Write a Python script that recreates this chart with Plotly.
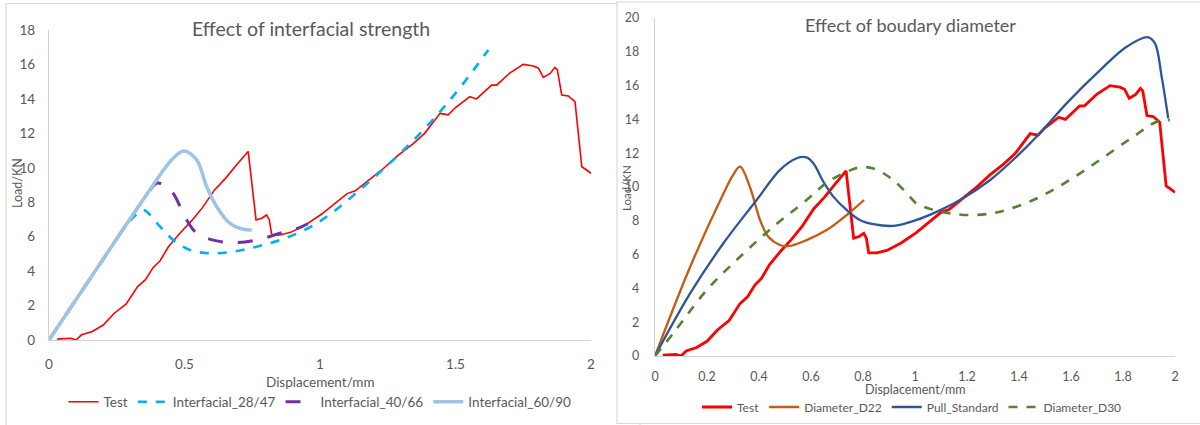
import plotly.graph_objects as go

# ---------------- data ----------------
test_x = [0.03, 0.08, 0.10, 0.12, 0.16, 0.20, 0.24, 0.285, 0.327, 0.356, 0.384, 0.41, 0.44, 0.483,
          0.525, 0.567, 0.61, 0.652, 0.694, 0.723, 0.735, 0.764, 0.785, 0.803, 0.813, 0.822, 0.852,
          0.892, 0.948, 1.005, 1.06, 1.10, 1.13, 1.175, 1.23, 1.287, 1.344, 1.386, 1.443, 1.473,
          1.50, 1.553, 1.578, 1.633, 1.652, 1.70, 1.75, 1.788, 1.806, 1.824, 1.849, 1.867, 1.876,
          1.892, 1.916, 1.941, 1.966, 1.984, 2.0]
test_y = [0.05, 0.1, 0.0, 0.3, 0.5, 0.87, 1.54, 2.1, 3.1, 3.5, 4.2, 4.6, 5.4, 6.2,
          6.9, 7.7, 8.7, 9.4, 10.2, 10.7, 10.95, 6.97, 7.07, 7.26, 6.97, 6.1, 6.1,
          6.25, 6.7, 7.3, 8.0, 8.5, 8.66, 9.24, 9.9, 10.7, 11.4, 12.0, 13.16, 13.07,
          13.5, 14.13, 14.0, 14.8, 14.8, 15.5, 16.0, 15.91, 15.78, 15.25, 15.48, 15.83, 15.68,
          14.23, 14.17, 13.84, 10.06, 9.87, 9.68]

if28_x = [0, 0.1, 0.2, 0.28, 0.32, 0.348, 0.41, 0.459, 0.52, 0.594, 0.68, 0.766, 0.852, 0.951,
          1.037, 1.16, 1.283, 1.357, 1.443, 1.529, 1.621]
if28_y = [0, 2.35, 4.7, 6.55, 7.25, 7.55, 6.58, 5.8, 5.23, 5.03, 5.13, 5.42, 5.8, 6.45,
          7.3, 8.9, 10.64, 11.8, 13.26, 14.9, 16.84]

if40_x = [0, 0.1, 0.2, 0.3, 0.36, 0.397, 0.43, 0.459, 0.508, 0.545, 0.606, 0.68, 0.766, 0.852,
          0.92, 0.955]
if40_y = [0, 2.35, 4.7, 7.05, 8.4, 9.1, 8.95, 8.5, 6.97, 6.2, 5.8, 5.65, 5.8, 6.2, 6.5, 6.75]

if60_x = [0, 0.1, 0.2, 0.3, 0.38, 0.415, 0.455, 0.497, 0.545, 0.582, 0.619, 0.668, 0.717, 0.748]
if60_y = [0, 2.35, 4.7, 7.05, 8.9, 9.7, 10.5, 10.97, 10.45, 8.9, 7.74, 6.77, 6.43, 6.39]

d22_x = [0, 0.135, 0.263, 0.30, 0.327, 0.365, 0.404, 0.436, 0.48, 0.513, 0.583, 0.66, 0.737, 0.804]
d22_y = [0, 5.27, 9.6, 10.7, 11.2, 10.0, 8.05, 7.05, 6.57, 6.5, 6.86, 7.45, 8.34, 9.23]

pull_x = [0, 0.135, 0.263, 0.391, 0.48, 0.545, 0.583, 0.609, 0.648, 0.686, 0.737, 0.788, 0.84,
          0.917, 1.006, 1.07, 1.173, 1.288, 1.391, 1.48, 1.583, 1.711, 1.814, 1.897, 1.923,
          1.949, 1.974]
pull_y = [0, 3.7, 6.67, 9.23, 11.0, 11.7, 11.75, 11.4, 10.3, 9.43, 8.64, 8.05, 7.8,
          7.7, 8.05, 8.44, 9.23, 10.4, 11.8, 13.18, 14.95, 16.9, 18.3, 18.86, 18.5,
          16.5, 14.06]

d30_x = [0, 0.07, 0.199, 0.327, 0.455, 0.583, 0.66, 0.737, 0.788, 0.84, 0.917, 0.98, 1.006,
         1.07, 1.135, 1.224, 1.327, 1.455, 1.583, 1.711, 1.84, 1.93, 1.98]
d30_y = [0, 1.34, 3.9, 5.87, 7.65, 9.23, 10.25, 10.9, 11.16, 11.1, 10.4, 9.43, 9.03,
         8.64, 8.44, 8.34, 8.54, 9.23, 10.3, 11.6, 12.98, 13.86, 13.96]

left_xticks = [0, 0.5, 1, 1.5, 2]
left_xlabels = ["0", "0.5", "1", "1.5", "2"]
right_xticks = [0, 0.2, 0.4, 0.6, 0.8, 1, 1.2, 1.4, 1.6, 1.8, 2]
right_xlabels = ["0", "0.2", "0.4", "0.6", "0.8", "1", "1.2", "1.4", "1.6", "1.8", "2"]
left_yticks = list(range(0, 19, 2))
right_yticks = list(range(0, 21, 2))

FONT = "Lato"
GREY = "#595959"
W, H = 1200, 425

fig = go.Figure()

# left panel
fig.add_trace(go.Scatter(x=test_x, y=test_y, name="Test", mode="lines",
                         line=dict(color="#FF0000", width=1.6), xaxis="x", yaxis="y", legend="legend"))
fig.add_trace(go.Scatter(x=if28_x, y=if28_y, name="Interfacial_28/47", mode="lines",
                         line=dict(color="#00B0F0", width=2.6, dash="dash", shape="spline"),
                         xaxis="x", yaxis="y", legend="legend"))
fig.add_trace(go.Scatter(x=if40_x, y=if40_y, name="Interfacial_40/66", mode="lines",
                         line=dict(color="#7030A0", width=3, dash="longdash", shape="spline"),
                         xaxis="x", yaxis="y", legend="legend"))
fig.add_trace(go.Scatter(x=if60_x, y=if60_y, name="Interfacial_60/90", mode="lines",
                         line=dict(color="#9DC3E6", width=3.5, shape="spline"),
                         xaxis="x", yaxis="y", legend="legend"))

# right panel
fig.add_trace(go.Scatter(x=test_x, y=test_y, name="Test", mode="lines",
                         line=dict(color="#FF0000", width=2.8), xaxis="x2", yaxis="y2", legend="legend2"))
fig.add_trace(go.Scatter(x=d22_x, y=d22_y, name="Diameter_D22", mode="lines",
                         line=dict(color="#C55A11", width=2.3, shape="spline"),
                         xaxis="x2", yaxis="y2", legend="legend2"))
fig.add_trace(go.Scatter(x=pull_x, y=pull_y, name="Pull_Standard", mode="lines",
                         line=dict(color="#2F5597", width=2.3, shape="spline"),
                         xaxis="x2", yaxis="y2", legend="legend2"))
fig.add_trace(go.Scatter(x=d30_x, y=d30_y, name="Diameter_D30", mode="lines",
                         line=dict(color="#548235", width=2.6, dash="dash", shape="spline"),
                         xaxis="x2", yaxis="y2", legend="legend2"))

axis_common = dict(showgrid=False, zeroline=False, showline=True, linecolor="#D0D0D0", linewidth=1.3,
                   ticks="", color=GREY, fixedrange=True, automargin=False)

fig.update_layout(
    width=W, height=H, autosize=False,
    margin=dict(l=0, r=0, t=0, b=0, pad=0),
    paper_bgcolor="white", plot_bgcolor="white",
    font=dict(family=FONT, color=GREY),
    xaxis=dict(domain=[49 / W, 591 / W], range=[0, 2], tickvals=left_xticks, ticktext=left_xlabels,
               tickfont=dict(size=13.5), anchor="y", ticklabelstandoff=12, **axis_common),
    yaxis=dict(domain=[85 / H, 395 / H], range=[0, 18], tickvals=left_yticks,
               tickfont=dict(size=13.5), anchor="x", ticklabelstandoff=10, **axis_common),
    xaxis2=dict(domain=[655 / W, 1175 / W], range=[0, 2], tickvals=right_xticks, ticktext=right_xlabels,
                tickfont=dict(size=12.5), anchor="y2", ticklabelstandoff=9, **axis_common),
    yaxis2=dict(domain=[69 / H, 407 / H], range=[0, 20], tickvals=right_yticks,
                tickfont=dict(size=12.5), anchor="x2", ticklabelstandoff=12, **axis_common),
    legend=dict(orientation="h", x=320 / W, xanchor="center", y=1 - 402 / H, yanchor="middle",
                font=dict(size=13.5, color=GREY), bgcolor="rgba(0,0,0,0)"),
    legend2=dict(orientation="h", x=912 / W, xanchor="center", y=1 - 407 / H, yanchor="middle",
                 font=dict(size=12, color=GREY), bgcolor="rgba(0,0,0,0)"),
    showlegend=True,
)

annotations = [
    dict(text="Effect of interfacial strength", x=311 / W, y=1 - 28 / H, font=dict(size=19.5, color=GREY)),
    dict(text="Effect of boudary diameter", x=910 / W, y=1 - 25 / H, font=dict(size=18, color=GREY)),
    dict(text="Displacement/mm", x=320 / W, y=1 - 382 / H, font=dict(size=13.5, color=GREY)),
    dict(text="Displacement/mm", x=915 / W, y=1 - 389 / H, font=dict(size=12.5, color=GREY)),
    dict(text="Load/KN", x=17 / W, y=1 - 183 / H, textangle=-90, font=dict(size=12.5, color=GREY)),
    dict(text="Load/KN", x=626 / W, y=1 - 188 / H, textangle=-90, font=dict(size=11.5, color=GREY)),
]
for a in annotations:
    a.update(xref="paper", yref="paper", showarrow=False, xanchor="center", yanchor="middle")
fig.update_layout(annotations=annotations)

# chart frames
fig.update_layout(shapes=[
    dict(type="rect", xref="paper", yref="paper", x0=6 / W, x1=640 / W, y0=-0.1, y1=1 - 3.5 / H,
         line=dict(color="#D9D9D9", width=1.2), fillcolor="rgba(0,0,0,0)", layer="below"),
    dict(type="rect", xref="paper", yref="paper", x0=617 / W, x1=1.1, y0=1 - 423.5 / H, y1=1 - 2 / H,
         line=dict(color="#D9D9D9", width=1.2), fillcolor="white", layer="below"),
])

fig.write_html("out.html",
               config={"displayModeBar": False, "staticPlot": False},
               post_script="document.body.style.margin='0';document.body.style.padding='0';"
                           "document.body.style.overflow='hidden';"
                           "document.documentElement.style.overflow='hidden';")
